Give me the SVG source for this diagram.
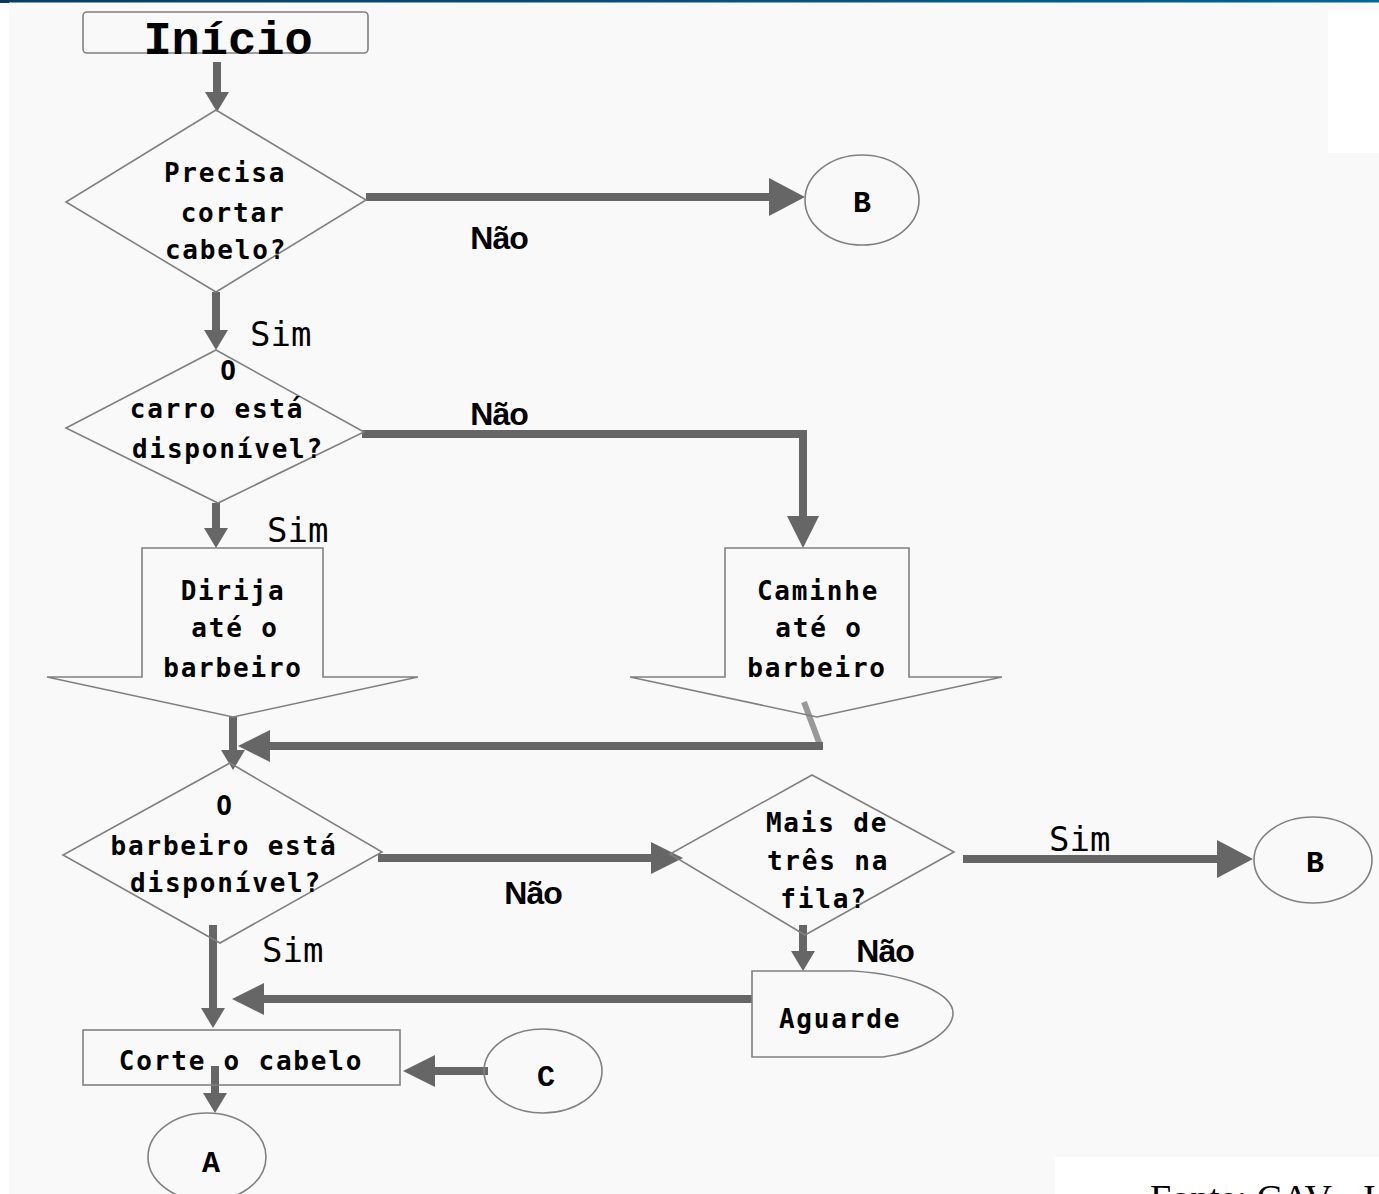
<svg xmlns="http://www.w3.org/2000/svg" width="1379" height="1194" viewBox="0 0 1379 1194">
  <style>
    .shape { fill: none; stroke: #808080; stroke-width: 1.6; }
    .conn { fill: none; stroke: #666; stroke-width: 8; }
    .lbl { font-family: "DejaVu Sans Mono", monospace; font-weight: bold; font-size: 26px; letter-spacing: 1.8px; fill: #000; text-anchor: middle; }
    .nao { font-family: "Liberation Sans", Arial, sans-serif; font-weight: bold; font-size: 32px; letter-spacing: -1px; fill: #000; text-anchor: middle; }
    .sim { font-family: "DejaVu Sans Mono", monospace; font-size: 34px; fill: #000; }
    .conn-ltr { font-family: "Liberation Mono", "Courier New", monospace; font-weight: bold; font-size: 30px; fill: #000; text-anchor: middle; }
  </style>
  <defs>
    <linearGradient id="bar" x1="0" y1="0" x2="1" y2="0">
      <stop offset="0" stop-color="#0c3d5c"/>
      <stop offset="1" stop-color="#0a6192"/>
    </linearGradient>
    <marker id="ah-s" markerUnits="userSpaceOnUse" markerWidth="20" markerHeight="24" refX="2" refY="12" orient="auto">
      <path d="M0,0 L20,12 L0,24 z" fill="#666"/>
    </marker>
    <marker id="ah-m" markerUnits="userSpaceOnUse" markerWidth="32" markerHeight="32" refX="2" refY="16" orient="auto">
      <path d="M0,0 L32,16 L0,32 z" fill="#666"/>
    </marker>
    <marker id="ah-l" markerUnits="userSpaceOnUse" markerWidth="36" markerHeight="38" refX="2" refY="19" orient="auto">
      <path d="M0,0 L36,19 L0,38 z" fill="#666"/>
    </marker>
  </defs>

  <!-- page background -->
  <rect x="0" y="0" width="1379" height="1194" fill="#f9f9f9"/>
  <rect x="0" y="0" width="9" height="1194" fill="#ffffff"/>
  <rect x="1328" y="10" width="51" height="143" fill="#ffffff"/>
  <rect x="1055" y="1157" width="324" height="37" fill="#ffffff"/>
  <rect x="0" y="0" width="1379" height="2.5" fill="url(#bar)"/>
  <rect x="0" y="0" width="9" height="3" fill="#0c3d5c"/>

  <!-- connectors -->
  <g id="connectors">
    <path class="conn" d="M217,62 V94" marker-end="url(#ah-s)"/>
    <path class="conn" d="M366,197 H771" marker-end="url(#ah-l)"/>
    <path class="conn" d="M216,292 V332" marker-end="url(#ah-s)"/>
    <path class="conn" d="M362,434 H803 V518" marker-end="url(#ah-m)"/>
    <path class="conn" d="M216,503 V530" marker-end="url(#ah-s)"/>
    <path class="conn" d="M233,717 V752" marker-end="url(#ah-s)"/>
    <path d="M804,702 L820,745" fill="none" stroke="#999" stroke-width="6"/>
    <path class="conn" d="M823,746 H268" marker-end="url(#ah-m)"/>
    <path class="conn" d="M378,858 H653" marker-end="url(#ah-m)"/>
    <path class="conn" d="M963,859 H1219" marker-end="url(#ah-l)"/>
    <path class="conn" d="M803,925 V953" marker-end="url(#ah-s)"/>
    <path class="conn" d="M752,999 H262" marker-end="url(#ah-m)"/>
    <path class="conn" d="M213,925 V1010" marker-end="url(#ah-s)"/>
    <path class="conn" d="M488,1071 H433" marker-end="url(#ah-m)"/>
    <path class="conn" d="M215,1066 V1095" marker-end="url(#ah-s)"/>
  </g>

  <!-- start -->
  <g id="inicio">
    <rect class="shape" x="83" y="12" width="285" height="41" rx="4"/>
    <text x="228" y="54" font-family="'Liberation Mono', 'Courier New', monospace" font-weight="bold" font-size="47" text-anchor="middle" fill="#000">Início</text>
  </g>

  <!-- decision: haircut needed -->
  <g id="precisa-cortar">
    <polygon class="shape" points="216,110 366,200 216,292 66,202"/>
    <text class="lbl" x="225" y="182">Precisa</text>
    <text class="lbl" x="233" y="222">cortar</text>
    <text class="lbl" x="226" y="259">cabelo?</text>
  </g>

  <g id="b-top">
    <ellipse class="shape" cx="862" cy="200" rx="57" ry="45"/>
    <text class="conn-ltr" x="862" y="212">B</text>
  </g>

  <!-- decision: car available -->
  <g id="carro-disponivel">
    <polygon class="shape" points="216,350 364,432 218,503 66,428"/>
    <text class="lbl" x="229" y="380">O</text>
    <text class="lbl" x="217" y="418">carro está</text>
    <text class="lbl" x="228" y="458">disponível?</text>
  </g>

  <!-- drive / walk -->
  <g id="dirija">
    <polygon class="shape" points="142,548 323,548 323,677 418,677 233,717 47,677 142,677"/>
    <text class="lbl" x="233" y="600">Dirija</text>
    <text class="lbl" x="235" y="637">até o</text>
    <text class="lbl" x="233" y="677">barbeiro</text>
  </g>

  <g id="caminhe">
    <polygon class="shape" points="725,548 909,548 909,677 1002,677 817,717 630,677 725,677"/>
    <text class="lbl" x="818" y="600">Caminhe</text>
    <text class="lbl" x="819" y="637">até o</text>
    <text class="lbl" x="817" y="677">barbeiro</text>
  </g>

  <!-- decision: barber available -->
  <g id="barbeiro-disponivel">
    <polygon class="shape" points="230,763 382,852 220,943 63,855"/>
    <text class="lbl" x="225" y="815">O</text>
    <text class="lbl" x="224" y="855">barbeiro está</text>
    <text class="lbl" x="226" y="892">disponível?</text>
  </g>

  <!-- decision: queue length -->
  <g id="mais-de-tres">
    <polygon class="shape" points="812,775 954,852 805,935 670,854"/>
    <text class="lbl" x="827" y="832">Mais de</text>
    <text class="lbl" x="828" y="870">três na</text>
    <text class="lbl" x="824" y="908">fila?</text>
  </g>

  <g id="b-right">
    <ellipse class="shape" cx="1313" cy="860" rx="59" ry="43"/>
    <text class="conn-ltr" x="1315" y="872">B</text>
  </g>

  <!-- wait -->
  <g id="aguarde">
    <path class="shape" d="M752,971 H853 C915,975 953,995 953,1013 C953,1032 920,1052 883,1057 H752 Z"/>
    <text class="lbl" x="840" y="1028">Aguarde</text>
  </g>

  <!-- haircut -->
  <g id="corte">
    <rect class="shape" x="83" y="1030" width="317" height="55"/>
    <text class="lbl" x="241" y="1070">Corte o cabelo</text>
  </g>

  <g id="c-conn">
    <ellipse class="shape" cx="543" cy="1071" rx="59" ry="42"/>
    <text class="conn-ltr" x="546" y="1086">C</text>
  </g>

  <g id="a-conn">
    <ellipse class="shape" cx="207" cy="1157" rx="59" ry="44"/>
    <text class="conn-ltr" x="211" y="1172">A</text>
  </g>

  <!-- branch labels -->
  <g id="labels">
    <text class="nao" x="499" y="249">Não</text>
    <text class="nao" x="499" y="425">Não</text>
    <text class="nao" x="533" y="904">Não</text>
    <text class="nao" x="885" y="962">Não</text>
    <text class="sim" x="250" y="346">Sim</text>
    <text class="sim" x="267" y="542">Sim</text>
    <text class="sim" x="262" y="962">Sim</text>
    <text class="sim" x="1049" y="851">Sim</text>
  </g>

  <text x="1150" y="1211" font-family="'Liberation Serif', 'Times New Roman', serif" font-size="38" fill="#000">Fonte: CAV - I</text>
</svg>
